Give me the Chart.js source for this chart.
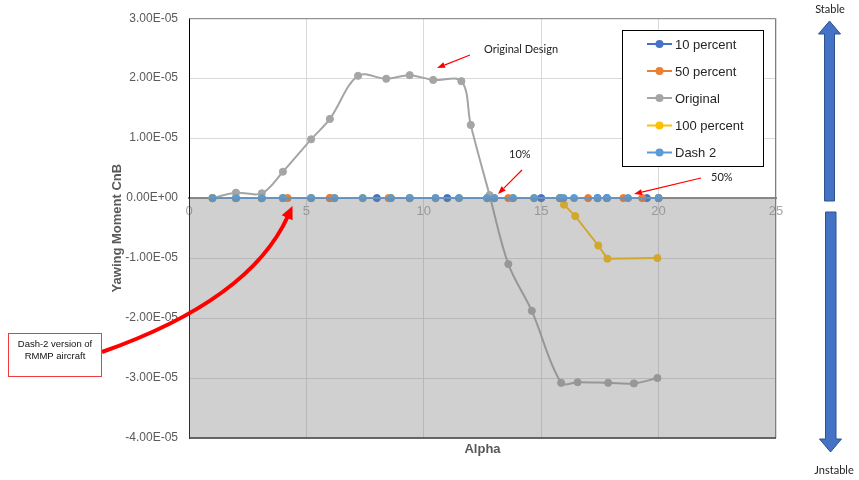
<!DOCTYPE html>
<html>
<head>
<meta charset="utf-8">
<title>Yawing Moment CnB vs Alpha</title>
<script src="https://cdn.jsdelivr.net/npm/chart.js@4.4.1/dist/chart.umd.min.js"></script>
<style>
  html, body { margin: 0; padding: 0; background: #fff; }
</style>
</head>
<body>
<canvas id="cnbChart" width="859" height="480"></canvas>
<script>
const seriesNames = ["10 percent", "50 percent", "Original", "100 percent", "Dash 2"];
const seriesColors = ["#4472C4", "#ED7D31", "#A5A5A5", "#FFC000", "#5B9BD5"];

// 10 percent (all on the zero line)
const alpha10 = [1, 2, 3.1, 4, 5.2, 6, 8, 9.4, 11, 12.7, 13, 15, 15.8, 17.4, 17.8, 19.5, 20];
const cnb10 = [0, 0, 0, 0, 0, 0, 0, 0, 0, 0, 0, 0, 0, 0, 0, 0, 0];

// 50 percent
const alpha50 = [1, 2, 3.1, 4.2, 6, 8.5, 12.7, 13.6, 15.8, 17, 18.5, 19.3, 20];
const cnb50 = [0, 0, 0, 0, 0, 0, 0, 0, 0, 0, 0, 0, 0];

// Original design
const alphaOrig = [1, 2, 3.1, 4, 5.2, 6, 7.2, 8.4, 9.4, 10.4, 11.6, 12, 12.8, 13.6, 14.6, 15.85, 16.55, 17.85, 18.95, 19.95];
const cnbOrig = [0, 0.09e-5, 0.08e-5, 0.44e-5, 0.98e-5, 1.32e-5, 2.04e-5, 1.99e-5, 2.05e-5, 1.97e-5,
                 1.95e-5, 1.22e-5, 0.05e-5, -1.1e-5, -1.88e-5, -3.08e-5, -3.07e-5, -3.08e-5, -3.09e-5, -3.0e-5];

// 100 percent
const alpha100 = [1, 2, 3.1, 4, 5.2, 6.2, 7.4, 8.6, 9.4, 10.5, 11.5, 12.7, 13, 13.8, 14.7, 15.8, 15.97, 16.45, 17.43, 17.82, 19.95];
const cnb100 = [0, 0, 0, 0, 0, 0, 0, 0, 0, 0, 0, 0, 0, 0, 0, 0, -0.11e-5, -0.3e-5, -0.79e-5, -1.01e-5, -1.0e-5];

// Dash 2
const alphaDash2 = [1, 2, 3.1, 4, 5.2, 6.2, 7.4, 8.6, 9.4, 10.5, 11.5, 12.7, 13, 13.8, 14.7, 15.8, 15.95, 16.4, 17.4, 17.8, 18.7, 20];
const cnbDash2 = [0, 0, 0, 0, 0, 0, 0, 0, 0, 0, 0, 0, 0, 0, 0, 0, 0, 0, 0, 0, 0, 0];

const xTickValues = [0, 5, 10, 15, 20, 25];
const xTickLabels = ["0", "5", "10", "15", "20", "25"];
const yTickValues = [-4e-5, -3e-5, -2e-5, -1e-5, 0, 1e-5, 2e-5, 3e-5];
const yTickLabels = ["-4.00E-05", "-3.00E-05", "-2.00E-05", "-1.00E-05", "0.00E+00", "1.00E-05", "2.00E-05", "3.00E-05"];

const FONT = "'Liberation Sans', Arial, sans-serif";
const NOTE_FONT = "Lato, 'Open Sans', sans-serif";

function series(i, xs, ys, order, tension) {
  return {
    label: seriesNames[i],
    data: xs.map((x, k) => ({ x, y: ys[k] })),
    borderColor: seriesColors[i],
    backgroundColor: seriesColors[i],
    pointBackgroundColor: seriesColors[i],
    pointBorderColor: seriesColors[i],
    pointRadius: 3.6,
    pointHoverRadius: 3.6,
    pointBorderWidth: 1,
    borderWidth: 2,
    showLine: true,
    tension,
    order,
  };
}

function arrow(ctx, x1, y1, x2, y2, color, lw, headLen, headW) {
  const dx = x2 - x1, dy = y2 - y1;
  const len = Math.hypot(dx, dy);
  const ux = dx / len, uy = dy / len;
  const bx = x2 - ux * headLen, by = y2 - uy * headLen;
  ctx.strokeStyle = color;
  ctx.fillStyle = color;
  ctx.lineWidth = lw;
  ctx.beginPath();
  ctx.moveTo(x1, y1);
  ctx.lineTo(bx, by);
  ctx.stroke();
  ctx.beginPath();
  ctx.moveTo(x2, y2);
  ctx.lineTo(bx - uy * headW / 2, by + ux * headW / 2);
  ctx.lineTo(bx + uy * headW / 2, by - ux * headW / 2);
  ctx.closePath();
  ctx.fill();
}

const decorations = {
  id: "decorations",
  beforeDatasetsDraw(chart) {
    const { ctx, chartArea: a } = chart;
    ctx.save();
    ctx.strokeStyle = "#7f7f7f";
    ctx.lineWidth = 1;
    ctx.beginPath();
    ctx.moveTo(a.left, a.top + 0.5);
    ctx.lineTo(a.right - 0.5, a.top + 0.5);
    ctx.lineTo(a.right - 0.5, a.bottom);
    ctx.stroke();
    ctx.restore();
  },
  afterDraw(chart) {
    const { ctx, chartArea: a, scales } = chart;
    const y0 = scales.y.getPixelForValue(0);
    ctx.save();

    // shaded "unstable" half of the plot
    ctx.fillStyle = "rgba(128,128,128,0.37)";
    ctx.fillRect(a.left, y0, a.right - a.left, a.bottom - y0);
    ctx.strokeStyle = "#404040";
    ctx.lineWidth = 1.5;
    ctx.beginPath();
    ctx.moveTo(a.left, a.bottom);
    ctx.lineTo(a.right, a.bottom);
    ctx.stroke();

    // axis titles
    ctx.fillStyle = "#595959";
    ctx.font = "bold 13px " + FONT;
    ctx.textAlign = "center";
    ctx.textBaseline = "middle";
    ctx.fillText("Alpha", (a.left + a.right) / 2, 449);
    ctx.save();
    ctx.translate(117, (a.top + a.bottom) / 2);
    ctx.rotate(-Math.PI / 2);
    ctx.fillText("Yawing Moment CnB", 0, 0);
    ctx.restore();

    // legend
    ctx.fillStyle = "#fff";
    ctx.fillRect(622, 30, 141, 136);
    ctx.strokeStyle = "#000";
    ctx.lineWidth = 1;
    ctx.strokeRect(622.5, 30.5, 141, 136);
    const rows = [44, 71, 98, 125.5, 152.5];
    ctx.font = "13px " + FONT;
    ctx.textAlign = "left";
    seriesNames.forEach((name, i) => {
      const yy = rows[i];
      ctx.strokeStyle = seriesColors[i];
      ctx.lineWidth = 2;
      ctx.beginPath();
      ctx.moveTo(647, yy);
      ctx.lineTo(672, yy);
      ctx.stroke();
      ctx.fillStyle = seriesColors[i];
      ctx.beginPath();
      ctx.arc(659.5, yy, 4, 0, Math.PI * 2);
      ctx.fill();
      ctx.fillStyle = "#262626";
      ctx.fillText(name, 675, yy + 1);
    });

    // notes and thin red arrows
    ctx.font = "11px " + NOTE_FONT;
    ctx.fillStyle = "#222";
    ctx.fillText("Original Design", 484, 49);
    ctx.fillText("10%", 509, 154);
    ctx.fillText("50%", 711, 177);
    arrow(ctx, 470, 55, 437, 68, "#ff0000", 1.2, 8, 6);
    arrow(ctx, 522, 170, 498, 194, "#ff0000", 1.2, 8, 6);
    arrow(ctx, 701, 178, 634, 194, "#ff0000", 1.2, 8, 6);

    // curved arrow and callout box
    ctx.strokeStyle = "#ff0000";
    ctx.fillStyle = "#ff0000";
    ctx.lineWidth = 4;
    ctx.beginPath();
    ctx.moveTo(102, 352);
    ctx.quadraticCurveTo(250, 300, 288, 216);
    ctx.stroke();
    const ux = 0.414, uy = -0.91;
    const tx = 292.5, ty = 206;
    const bx = tx - ux * 13, by = ty - uy * 13;
    ctx.beginPath();
    ctx.moveTo(tx, ty);
    ctx.lineTo(bx - uy * 6, by + ux * 6);
    ctx.lineTo(bx + uy * 6, by - ux * 6);
    ctx.closePath();
    ctx.fill();

    ctx.fillStyle = "#fff";
    ctx.fillRect(8, 333, 94, 44);
    ctx.strokeStyle = "#f03c3c";
    ctx.lineWidth = 1;
    ctx.strokeRect(8.5, 333.5, 93, 43);
    ctx.fillStyle = "#111";
    ctx.font = "9.5px " + FONT;
    ctx.textAlign = "center";
    ctx.fillText("Dash-2 version of", 55, 344);
    ctx.fillText("RMMP aircraft", 55, 356);

    // stable / unstable arrows on the right
    ctx.fillStyle = "#4472C4";
    ctx.strokeStyle = "#2F528F";
    ctx.lineWidth = 1;
    ctx.beginPath();
    ctx.moveTo(829.5, 21);
    ctx.lineTo(840.5, 34);
    ctx.lineTo(834.5, 34);
    ctx.lineTo(834.5, 201);
    ctx.lineTo(824.5, 201);
    ctx.lineTo(824.5, 34);
    ctx.lineTo(818.5, 34);
    ctx.closePath();
    ctx.fill();
    ctx.stroke();
    ctx.beginPath();
    ctx.moveTo(825.5, 212);
    ctx.lineTo(836, 212);
    ctx.lineTo(836, 439);
    ctx.lineTo(841.5, 439);
    ctx.lineTo(830.5, 452);
    ctx.lineTo(819.5, 439);
    ctx.lineTo(825.5, 439);
    ctx.closePath();
    ctx.fill();
    ctx.stroke();

    ctx.fillStyle = "#222";
    ctx.font = "11px " + NOTE_FONT;
    ctx.fillText("Stable", 830, 9);
    ctx.fillText("Jnstable", 834, 470);
    ctx.restore();
  },
};

const config = {
  type: "scatter",
  data: {
    datasets: [
      series(0, alpha10, cnb10, 4, 0),
      series(1, alpha50, cnb50, 3, 0),
      series(2, alphaOrig, cnbOrig, 2, 0.35),
      series(3, alpha100, cnb100, 1, 0),
      series(4, alphaDash2, cnbDash2, 0, 0),
    ],
  },
  options: {
    responsive: false,
    animation: false,
    devicePixelRatio: 1,
    layout: { padding: { left: 0, right: 83, top: 17, bottom: 42 } },
    plugins: {
      legend: { display: false },
      tooltip: { enabled: false },
    },
    scales: {
      x: {
        type: "linear",
        position: { y: 0 },
        min: 0,
        max: 25,
        afterBuildTicks: (axis) => {
          axis.ticks = xTickValues.map((v) => ({ value: v }));
        },
        ticks: {
          padding: 6,
          color: "#a6a6a6",
          font: { family: FONT, size: 13 },
          callback: (v, i) => xTickLabels[i],
        },
        grid: { color: "#d9d9d9", drawTicks: false },
        border: { color: "#8a8a8a", width: 2 },
      },
      y: {
        type: "linear",
        min: -4e-5,
        max: 3e-5,
        afterBuildTicks: (axis) => {
          axis.ticks = yTickValues.map((v) => ({ value: v }));
        },
        afterFit: (scale) => {
          scale.width = 189;
        },
        ticks: {
          padding: 11,
          color: "#595959",
          font: { family: FONT, size: 12 },
          callback: (v, i) => yTickLabels[i],
        },
        grid: { color: "#d9d9d9", drawTicks: false },
        border: { color: "#000", width: 1 },
      },
    },
  },
  plugins: [decorations],
};

new Chart(document.getElementById("cnbChart"), config);
</script>
</body>
</html>
